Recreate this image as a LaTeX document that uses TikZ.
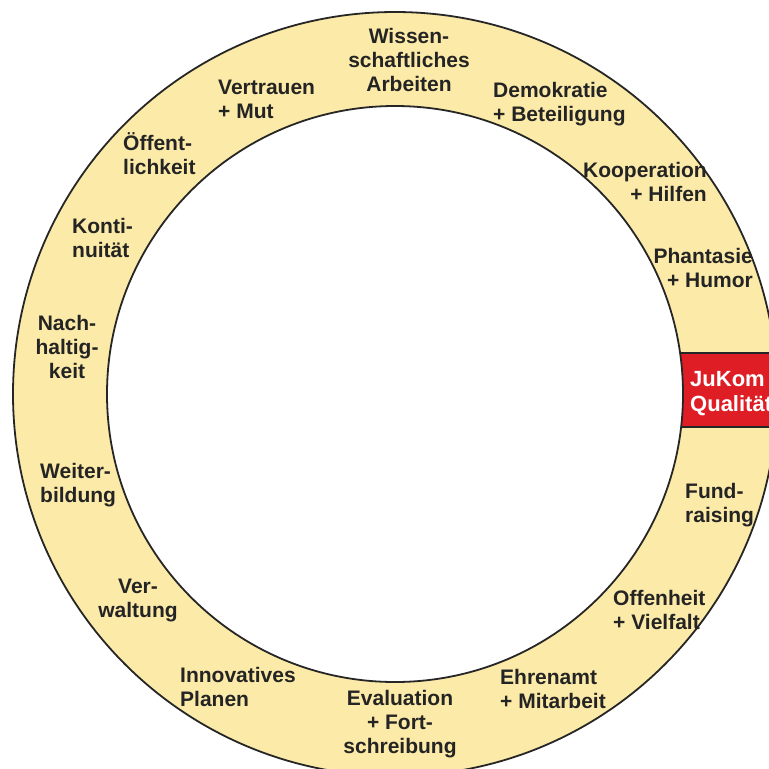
\documentclass[tikz,border=0pt]{standalone}
\usepackage{fontspec}
\setmainfont{Liberation Sans}
\definecolor{ringfill}{RGB}{252,234,168}
\definecolor{ringline}{RGB}{38,38,38}
\definecolor{txtgray}{RGB}{36,36,36}
\definecolor{jkred}{RGB}{222,30,36}
\begin{document}
\begin{tikzpicture}[x=1pt,y=-1pt,
  lbl/.style={font=\bfseries\fontsize{21}{24}\selectfont, text=txtgray, inner sep=0pt},
  lft/.style={lbl, align=left, anchor=base west},
  ctr/.style={lbl, align=center, anchor=base},
  rgt/.style={lbl, align=right, anchor=base east},
  ringedge/.style={draw=ringline, line width=1.8pt}]
\useasboundingbox (0,0) rectangle (769,769);
\clip (0,0) rectangle (769,769);
\fill[white] (0,0) rectangle (769,769);
% ring centre and radii
\coordinate (c) at (395,394);
% outer disc
\fill[ringfill] (c) circle[radius=382];
% red segment on the right
\begin{scope}
  \clip (c) circle[radius=382];
  \fill[jkred] (600,353) rectangle (800,427);
  \draw[ringline, line width=1.8pt] (600,353) -- (800,353);
  \draw[ringline, line width=1.8pt] (600,427) -- (800,427);
\end{scope}
% inner hole
\fill[white] (c) circle[radius=288];
\draw[ringedge] (c) circle[radius=382];
\draw[ringedge] (c) circle[radius=288];
% labels around the ring (positions give the baseline of the last line)
\node[ctr] (wiss) at (409,91) {Wissen-\\schaftliches\\Arbeiten};
\node[lft] (vert) at (218,118) {Vertrauen\\+ Mut};
\node[lft] (oeff) at (123,174) {Öffent-\\lichkeit};
\node[lft] (konti) at (72,257) {Konti-\\nuität};
\node[ctr] (nach) at (67,378) {Nach-\\haltig-\\keit};
\node[lft] (weiter) at (40,502) {Weiter-\\bildung};
\node[ctr] (verw) at (138,617) {Ver-\\waltung};
\node[lft] (innov) at (180,706) {Innovatives\\Planen};
\node[ctr] (eval) at (400,753) {Evaluation\\+ Fort-\\schreibung};
\node[lft] (ehren) at (500,708) {Ehrenamt\\+ Mitarbeit};
\node[lft] (offen) at (613,629) {Offenheit\\+ Vielfalt};
\node[lft] (fund) at (685,522) {Fund-\\raising};
\node[lft, text=white, font=\bfseries\fontsize{22}{25}\selectfont] (jukom) at (690,411) {JuKom\\Qualität};
\node[rgt] (phant) at (753,287) {Phantasie\\+ Humor};
\node[rgt] (koop) at (707,201) {Kooperation\\+ Hilfen};
\node[lft] (demo) at (493,121) {Demokratie\\+ Beteiligung};
\end{tikzpicture}
\end{document}
